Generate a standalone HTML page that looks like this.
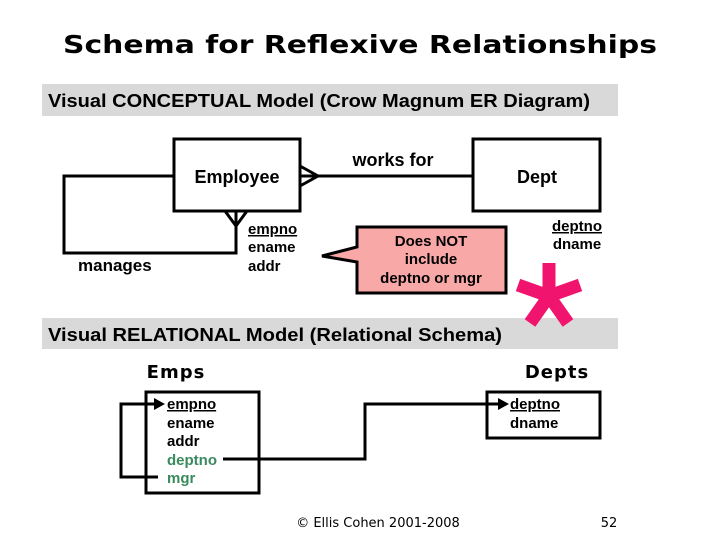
<!DOCTYPE html>
<html><head><style>body{margin:0;background:#fff}svg{display:block}</style></head><body>
<svg width="720" height="540" xmlns="http://www.w3.org/2000/svg" font-family="Liberation Sans, Arial, sans-serif" font-weight="bold">
<text x="360" y="53" text-anchor="middle" font-family="DejaVu Sans, sans-serif" font-size="25" textLength="594" lengthAdjust="spacingAndGlyphs">Schema for Reflexive Relationships</text>
<rect x="42" y="84" width="576" height="32" fill="#d9d9d9"/>
<text x="48" y="107" font-size="18" textLength="542" lengthAdjust="spacingAndGlyphs">Visual CONCEPTUAL Model (Crow Magnum ER Diagram)</text>
<rect x="42" y="318" width="576" height="31" fill="#d9d9d9"/>
<text x="48" y="341" font-size="18" textLength="454" lengthAdjust="spacingAndGlyphs">Visual RELATIONAL Model (Relational Schema)</text>
<g fill="none" stroke="#000" stroke-width="3">
<rect x="174" y="139" width="126" height="72"/>
<rect x="473" y="139" width="127" height="72"/>
<polyline points="300,166 318,176 300,186"/>
<line x1="300" y1="176" x2="473" y2="176"/>
<polyline points="174,176 64,176 64,253 236,253 236,211"/>
<polyline points="225,211 236,226 247,211"/>
</g>
<text x="237" y="183" font-size="18" text-anchor="middle">Employee</text>
<text x="393" y="166" font-size="18" text-anchor="middle">works for</text>
<text x="537" y="183" font-size="18" text-anchor="middle">Dept</text>
<text x="78" y="271" font-size="17">manages</text>
<g font-size="15"><text x="248" y="234" text-decoration="underline">empno</text><text x="248" y="252">ename</text><text x="248" y="271">addr</text></g>
<g font-size="15" text-anchor="middle"><text x="577" y="231" text-decoration="underline">deptno</text><text x="577" y="249">dname</text></g>
<path d="M357,227 H506 V293 H357 V262 L322,256 L357,247 Z" fill="#f9a8a8" stroke="#000" stroke-width="3"/>
<g font-size="15" text-anchor="middle"><text x="431" y="246">Does NOT</text><text x="431" y="264">include</text><text x="431" y="283">deptno or mgr</text></g>
<g stroke="#f0146e" stroke-width="13" fill="none">
<line x1="549" y1="263" x2="549" y2="296"/>
<line x1="549" y1="296" x2="518" y2="285"/>
<line x1="549" y1="296" x2="580" y2="285"/>
<line x1="549" y1="296" x2="530" y2="323"/>
<line x1="549" y1="296" x2="568" y2="323"/>
</g>
<text x="176" y="378" font-size="18" text-anchor="middle" font-family="DejaVu Sans, sans-serif" letter-spacing="1">Emps</text>
<text x="557" y="378" font-size="18" text-anchor="middle" font-family="DejaVu Sans, sans-serif" letter-spacing="1">Depts</text>
<g fill="none" stroke="#000" stroke-width="3">
<rect x="146" y="392" width="113" height="101"/>
<rect x="487" y="392" width="113" height="46"/>
<polyline points="158,477 121,477 121,404 156,404"/>
<polyline points="223,459 365,459 365,404 500,404"/>
</g>
<path d="M154,398 L165,404 L154,410 Z M498,398 L509,404 L498,410 Z"/>
<g font-size="15"><text x="167" y="409" text-decoration="underline">empno</text><text x="167" y="428">ename</text><text x="167" y="446">addr</text>
<text x="167" y="465" fill="#3a8a5e">deptno</text><text x="167" y="483" fill="#3a8a5e">mgr</text>
<text x="510" y="409" text-decoration="underline">deptno</text><text x="510" y="428">dname</text></g>
<text x="378" y="527" font-size="13" font-weight="normal" text-anchor="middle" font-family="DejaVu Sans, sans-serif">© Ellis Cohen 2001-2008</text>
<text x="609" y="527" font-size="13" font-weight="normal" text-anchor="middle" font-family="DejaVu Sans, sans-serif">52</text>
</svg>
</body></html>
